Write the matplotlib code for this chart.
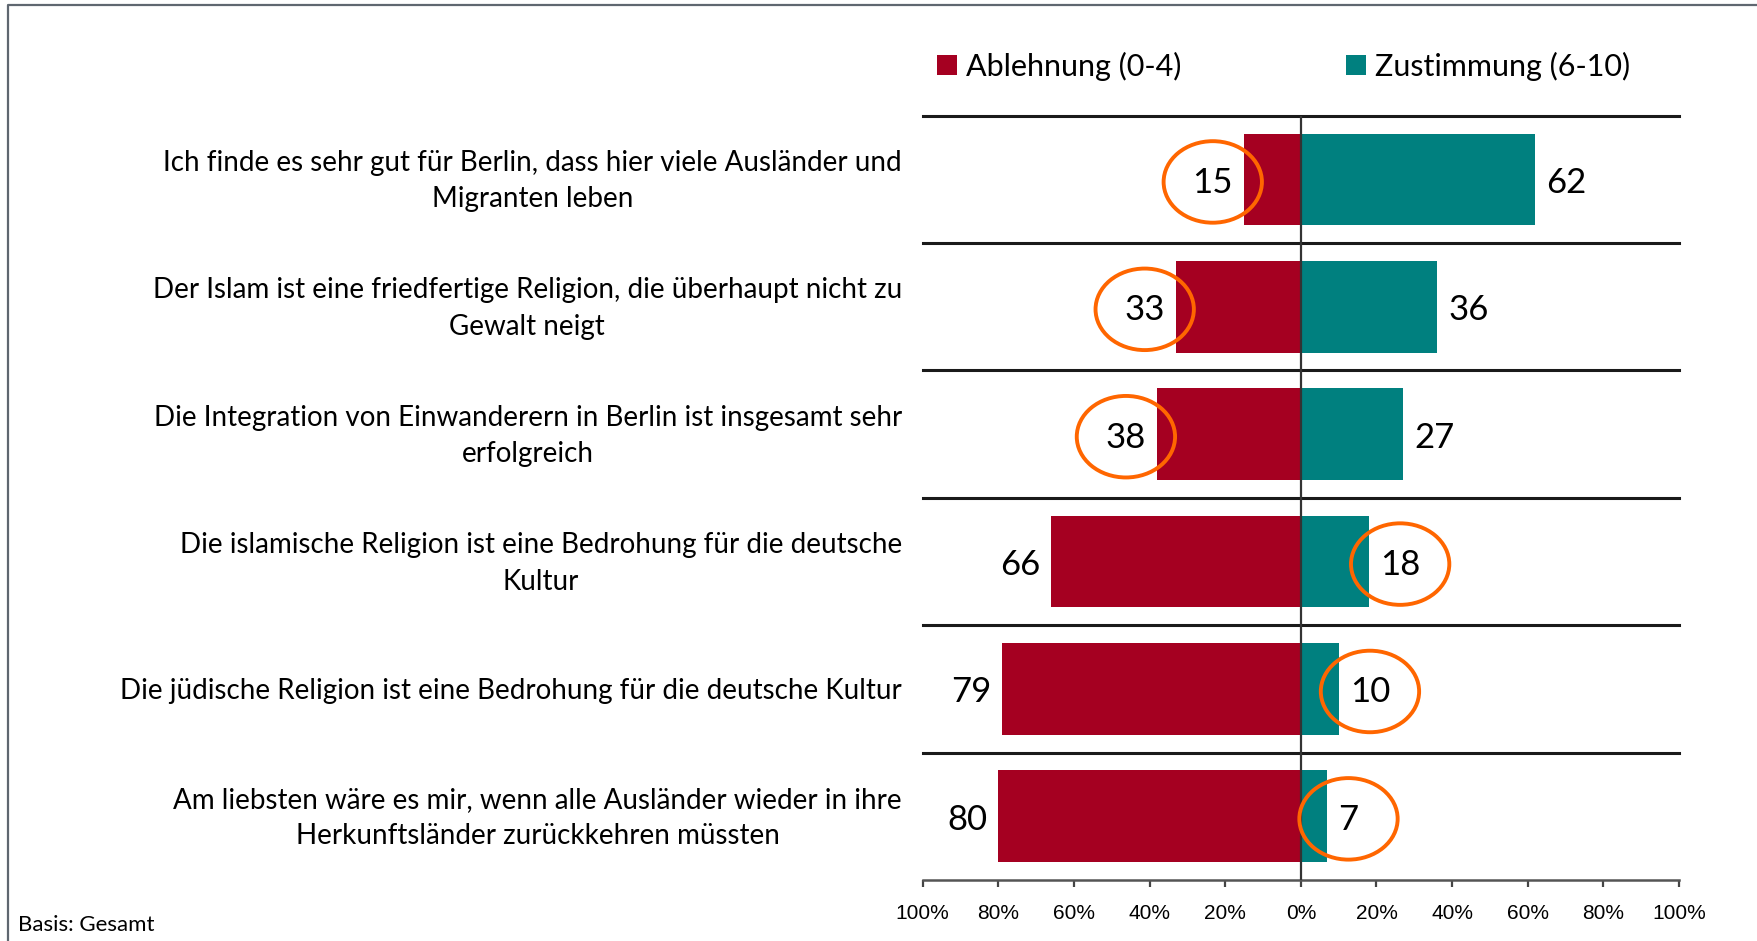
import matplotlib
matplotlib.use('Agg')
import matplotlib.pyplot as plt
from matplotlib.patches import Ellipse
from matplotlib.lines import Line2D
from matplotlib.transforms import ScaledTranslation
import numpy as np

aussagen = [
    "Ich finde es sehr gut für Berlin, dass hier viele Ausländer und\nMigranten leben",
    "Der Islam ist eine friedfertige Religion, die überhaupt nicht zu\nGewalt neigt",
    "Die Integration von Einwanderern in Berlin ist insgesamt sehr\nerfolgreich",
    "Die islamische Religion ist eine Bedrohung für die deutsche\nKultur",
    "Die jüdische Religion ist eine Bedrohung für die deutsche Kultur",
    "Am liebsten wäre es mir, wenn alle Ausländer wieder in ihre\nHerkunftsländer zurückkehren müssten",
]
ablehnung = [15, 33, 38, 66, 79, 80]
zustimmung = [62, 36, 27, 18, 10, 7]
# which value is circled in each row
markiert = ['A', 'A', 'A', 'Z', 'Z', 'Z']
xticks = [-100, -80, -60, -40, -20, 0, 20, 40, 60, 80, 100]
xticklabels = ['100%', '80%', '60%', '40%', '20%', '0%', '20%', '40%', '60%', '80%', '100%']

rot = '#A50021'
teal = '#00807F'
orange = '#FF6600'

plt.rcParams['font.family'] = ['Lato', 'DejaVu Sans']

W, H = 1757, 941
fig = plt.figure(figsize=(W / 100, H / 100), dpi=100)
ax = fig.add_axes([922.7 / W, (H - 880) / H, (1679 - 922.7) / W, (880 - 115.7) / H])

y = np.arange(len(aussagen))
b_a = ax.barh(y, [-v for v in ablehnung], height=0.72, color=rot, label='Ablehnung (0-4)')
b_z = ax.barh(y, zustimmung, height=0.72, color=teal, label='Zustimmung (6-10)')

lab_a = ax.bar_label(b_a, labels=[str(v) for v in ablehnung], padding=8, fontsize=25)
lab_z = ax.bar_label(b_z, labels=[str(v) for v in zustimmung], padding=8, fontsize=25)
# nudge the numbers a little lower
for t in list(lab_a) + list(lab_z):
    t.xyann = (t.xyann[0], -2.5)

ax.set_xlim(-100, 100)
ax.set_ylim(len(aussagen) - 0.5, -0.5)

# separator lines between rows
for k in range(len(aussagen)):
    ax.axhline(k - 0.5, color='#1a1a1a', lw=2.2, clip_on=False, zorder=3)
ax.axvline(0, color='#333333', lw=1.6, zorder=4)

for s in ['top', 'left', 'right']:
    ax.spines[s].set_visible(False)
ax.spines['bottom'].set_color('#555555')
ax.spines['bottom'].set_linewidth(1.8)

ax.set_xticks(xticks)
ax.set_xticklabels(xticklabels, fontsize=15, family='Liberation Sans')
ax.tick_params(axis='x', direction='out', length=5, width=1.6, color='#444444', pad=12)

ax.set_yticks(y)
ax.set_yticklabels(aussagen, fontsize=20, linespacing=1.5)
ax.tick_params(axis='y', length=0, pad=15)
for t in ax.get_yticklabels():
    t.set_multialignment('center')
    if '\n' in t.get_text():
        t.set_transform(t.get_transform() + ScaledTranslation(0, 6 / 100, fig.dpi_scale_trans))

ax.legend(loc='center left', bbox_to_anchor=(937 / W, (H - 66) / H), bbox_transform=fig.transFigure,
          ncol=2, frameon=False, fontsize=22, handlelength=0.65, handleheight=0.65,
          handletextpad=0.3, columnspacing=5.4, borderpad=0, borderaxespad=0)

# ellipses round the highlighted numbers
fig.canvas.draw()
r = fig.canvas.get_renderer()
inv = ax.transData.inverted()
for i, m in enumerate(markiert):
    t = lab_a[i] if m == 'A' else lab_z[i]
    bb = t.get_window_extent(r)
    cx, cy = inv.transform(((bb.x0 + bb.x1) / 2, (bb.y0 + bb.y1) / 2))
    ax.add_patch(Ellipse((cx, i + 0.02), width=26, height=0.64, fill=False,
                         ec=orange, lw=2.8, zorder=5, clip_on=False))

fig.text(18 / W, (H - 925) / H, 'Basis: Gesamt', fontsize=16, va='center', ha='left')

# frame lines at the left and top
fig.add_artist(Line2D([7.5 / W, 7.5 / W, 1], [0, (H - 5) / H, (H - 5) / H],
                      transform=fig.transFigure, color='#5F6770', lw=1.6))

fig.savefig('out.png', dpi=100)
